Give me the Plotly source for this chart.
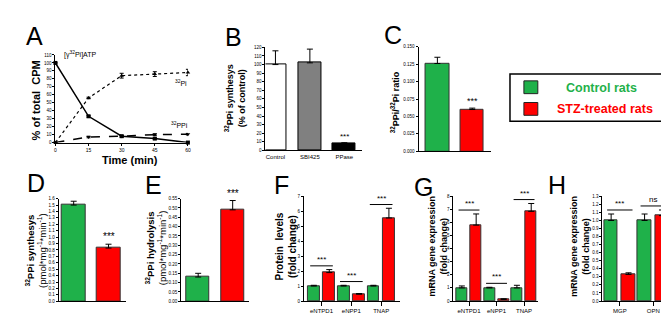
import plotly.graph_objects as go

W, H = 669, 315
FONT = "Liberation Sans, Arial, sans-serif"
GREEN = "#1fb14a"
RED = "#ff0000"

# ---------------- data ----------------
time_min = [0, 15, 30, 45, 60]
atp = [100, 33, 8, 5, 0]
atp_err = [0, 1, 1, 1, 0]
pi = [0, 56, 84, 86, 88]
pi_err = [0, 1, 3, 3, 4]
ppi = [0, 7, 8, 10, 10.5]
ppi_err = [0, 1, 1, 1, 1]

b_cats = ["Control", "SBI425", "PPase"]
b_vals = [100, 102, 8]
b_err = [16, 16, 1]

c_vals = [0.126, 0.060]
c_err = [0.009, 0.002]

d_vals = [1.50, 0.83]
d_err = [0.06, 0.06]

e_vals = [0.13, 0.49]
e_err = [0.02, 0.05]

f_cats = ["eNTPD1", "eNPP1", "TNAP"]
f_ctrl = [1.0, 1.0, 1.0]
f_ctrl_err = [0.05, 0.05, 0.05]
f_stz = [1.9, 0.45, 5.55]
f_stz_err = [0.2, 0.05, 0.65]

g_cats = ["eNTPD1", "eNPP1", "TNAP"]
g_ctrl = [1.0, 1.0, 1.0]
g_ctrl_err = [0.15, 0.05, 0.2]
g_stz = [5.8, 0.12, 6.85]
g_stz_err = [0.85, 0.05, 0.6]

h_cats = ["MGP", "OPN"]
h_ctrl = [1.0, 1.0]
h_ctrl_err = [0.08, 0.08]
h_stz = [0.33, 1.06]
h_stz_err = [0.02, 0.07]
h_sig = ["***", "ns"]

legend_labels = ["Control rats", "STZ-treated rats"]

# ---------------- helpers ----------------
def px_x(x):
    return x / W

def px_y(y):
    return 1 - y / H

fig = go.Figure()
layout = {}

def add_axes(n, xpx, ypx, xrange, yrange, ydtick, yfmt=None, xtickvals=None, xticktext=None, xticks=""):
    xa = "xaxis" if n == 1 else f"xaxis{n}"
    ya = "yaxis" if n == 1 else f"yaxis{n}"
    xr = "x" if n == 1 else f"x{n}"
    yr = "y" if n == 1 else f"y{n}"
    layout[xa] = dict(domain=[px_x(xpx[0]), px_x(xpx[1])], range=xrange, anchor=yr,
                      showline=True, linecolor="black", linewidth=1, showgrid=False, zeroline=False,
                      ticks=xticks, ticklen=4, tickcolor="black",
                      tickvals=xtickvals if xtickvals is not None else [],
                      ticktext=xticktext if xticktext is not None else [],
                      tickfont=dict(size=6, family=FONT, color="black"), fixedrange=True)
    layout[ya] = dict(domain=[px_y(ypx[1]), px_y(ypx[0])], range=yrange, anchor=xr,
                      showline=True, linecolor="black", linewidth=1, showgrid=False, zeroline=False,
                      ticks="outside", ticklen=2, tickcolor="black", dtick=ydtick, tick0=0,
                      tickformat=yfmt, tickfont=dict(size=4.5, family=FONT, color="black"),
                      fixedrange=True)
    return xr, yr

def errbar(err):
    return dict(type="data", array=err, arrayminus=[0] * len(err), symmetric=False,
                color="black", thickness=1, width=3)

annotations = []
shapes = []

def ann(text, x, y, size, color="black", angle=0, xanchor="center", yanchor="middle", xref="paper", yref="paper"):
    annotations.append(dict(text=text, x=x, y=y, xref=xref, yref=yref, showarrow=False,
                            textangle=angle, xanchor=xanchor, yanchor=yanchor,
                            font=dict(size=size, family=FONT, color=color)))

# ---------------- Panel A ----------------
xr, yr = add_axes(1, (46.7, 180), (45.7, 134.7), [0, 60], [0, 110], 10,
                  xtickvals=time_min, xticktext=[str(t) for t in time_min], xticks="outside")
layout["xaxis"]["ticklen"] = 2
layout["xaxis"]["tickfont"]["size"] = 5
for ys, er, dash, sym, lw in [(atp, atp_err, "solid", "square", 1.5),
                              (pi, pi_err, "dot", "triangle-up", 1.2),
                              (ppi, ppi_err, "dash", "triangle-down", 1.5)]:
    fig.add_trace(go.Scatter(x=time_min, y=ys, xaxis=xr, yaxis=yr, mode="lines+markers",
                             line=dict(color="black", width=lw, dash=dash),
                             marker=dict(symbol=sym, size=4, color="black"),
                             error_y=dict(type="data", array=er, color="black", thickness=1, width=2),
                             cliponaxis=False, showlegend=False))
ann("[γ<sup>32</sup>Pi]ATP", px_x(72), px_y(45), 7)
ann("<sup>32</sup>Pi", px_x(173), px_y(74), 7)
ann("<sup>32</sup>PPi", px_x(172), px_y(117), 7)
ann("<b>Time (min)</b>", px_x(122), px_y(152), 11)
ann("<b>% of total  CPM</b>", px_x(27), px_y(92), 11, angle=-90)
ann("A", px_x(26), px_y(26), 25)

# ---------------- Panel B ----------------
xr, yr = add_axes(2, (258, 355), (38, 142.7), [-0.29, 2.51], [0, 120], 10,
                  xtickvals=[0, 1, 2], xticktext=b_cats)
fig.add_trace(go.Bar(x=[0, 1, 2], y=b_vals, xaxis=xr, yaxis=yr, width=0.66,
                     marker=dict(color=["white", "#808080", "black"], line=dict(color="black", width=1)),
                     error_y=errbar(b_err), showlegend=False))
ann("***", 2, b_vals[2] + b_err[2], 8, xref=xr, yref=yr, yanchor="bottom")
ann("<b><sup>32</sup>PPi synthesys<br>(% of control)</b>", px_x(227), px_y(90), 9, angle=-90)
ann("B", px_x(226), px_y(27), 25)

# ---------------- Panel C ----------------
xr, yr = add_axes(3, (412, 485), (37.4, 143.6), [-0.54, 1.54], [0, 0.15], 0.025, yfmt=".3f")
fig.add_trace(go.Bar(x=[0, 1], y=c_vals, xaxis=xr, yaxis=yr, width=0.67,
                     marker=dict(color=[GREEN, RED], line=dict(color="#333333", width=1)),
                     error_y=errbar(c_err), showlegend=False))
ann("***", 1, c_vals[1] + c_err[1], 9, xref=xr, yref=yr, yanchor="bottom")
ann("<b><sup>32</sup>PPi/<sup>32</sup>Pi ratio</b>", px_x(388), px_y(94), 9, angle=-90)
ann("C", px_x(386), px_y(25), 25)

# ---------------- Legend box ----------------
shapes.append(dict(type="rect", xref="paper", yref="paper", x0=px_x(504), x1=px_x(664),
                   y0=px_y(113), y1=px_y(65), line=dict(color="black", width=1.5)))
shapes.append(dict(type="rect", xref="paper", yref="paper", x0=px_x(518), x1=px_x(532),
                   y0=px_y(85), y1=px_y(72), fillcolor=GREEN, line=dict(color="#222222", width=1)))
shapes.append(dict(type="rect", xref="paper", yref="paper", x0=px_x(518), x1=px_x(532),
                   y0=px_y(107), y1=px_y(94), fillcolor=RED, line=dict(color="#222222", width=1)))
ann(f"<b>{legend_labels[0]}</b>", px_x(596), px_y(79), 12.5, color=GREEN)
ann(f"<b>{legend_labels[1]}</b>", px_x(600), px_y(100.5), 12.5, color=RED)

# ---------------- Panel D ----------------
xr, yr = add_axes(4, (50, 118), (191.7, 296), [-0.43, 1.51], [0, 1.6], 0.1, yfmt=".1f")
fig.add_trace(go.Bar(x=[0, 1], y=d_vals, xaxis=xr, yaxis=yr, width=0.67,
                     marker=dict(color=[GREEN, RED], line=dict(color="#333333", width=1)),
                     error_y=errbar(d_err), showlegend=False))
ann("***", 1, d_vals[1] + d_err[1], 10, color="black", xref=xr, yref=yr, yanchor="bottom")
ann("<b><sup>32</sup>PPi synthesys</b><br>(pmol*mg<sup>-1</sup>*min<sup>-1</sup>)", px_x(27), px_y(244), 9.5, angle=-90)
ann("D", px_x(27), px_y(176), 25)

# ---------------- Panel E ----------------
xr, yr = add_axes(5, (173.3, 241.7), (191.7, 296), [-0.49, 1.48], [0, 0.55], 0.05, yfmt=".2f")
fig.add_trace(go.Bar(x=[0, 1], y=e_vals, xaxis=xr, yaxis=yr, width=0.67,
                     marker=dict(color=[GREEN, RED], line=dict(color="#333333", width=1)),
                     error_y=errbar(e_err), showlegend=False))
ann("***", 1, e_vals[1] + e_err[1], 10, color="black", xref=xr, yref=yr, yanchor="bottom")
ann("<b><sup>32</sup>PPi hydrolysis</b><br>(pmol*mg<sup>-1</sup>*min<sup>-1</sup>)", px_x(148), px_y(242), 9.5, angle=-90)
ann("E", px_x(145), px_y(178), 25)

# ---------------- Grouped panels F, G, H ----------------
def grouped(n, xpx, ypx, xrange, yrange, ydtick, cats, ctrl, ctrl_err, stz, stz_err, sigs, pad):
    xr, yr = add_axes(n, xpx, ypx, xrange, yrange, ydtick, yfmt=None if ydtick >= 1 else ".1f",
                      xtickvals=list(range(len(cats))), xticktext=cats, xticks="outside")
    off, wid = 0.26, 0.4
    xs = list(range(len(cats)))
    fig.add_trace(go.Bar(x=[i - off for i in xs], y=ctrl, xaxis=xr, yaxis=yr, width=wid,
                         marker=dict(color=GREEN, line=dict(color="#333333", width=1)),
                         error_y=errbar(ctrl_err), showlegend=False))
    fig.add_trace(go.Bar(x=[i + off for i in xs], y=stz, xaxis=xr, yaxis=yr, width=wid,
                         marker=dict(color=RED, line=dict(color="#333333", width=1)),
                         error_y=errbar(stz_err), showlegend=False))
    for i in xs:
        top = max(ctrl[i] + ctrl_err[i], stz[i] + stz_err[i]) + pad
        shapes.append(dict(type="line", xref=xr, yref=yr, x0=i - off - 0.12, x1=i + off + 0.12,
                           y0=top, y1=top, line=dict(color="black", width=1)))
        ann(sigs[i], i, top, 8, xref=xr, yref=yr, yanchor="bottom")
    return xr, yr

grouped(6, (296.7, 393), (189.3, 295.7), [-0.59, 2.62], [0, 7], 1, f_cats,
        f_ctrl, f_ctrl_err, f_stz, f_stz_err, ["***"] * 3, 0.25)
ann("<b>Protein  levels<br>(fold change)</b>", px_x(279), px_y(240), 10, angle=-90)
ann("F", px_x(274), px_y(178), 25)

grouped(7, (447, 532), (189.3, 295.7), [-0.57, 2.5], [0, 8], 1, g_cats,
        g_ctrl, g_ctrl_err, g_stz, g_stz_err, ["***"] * 3, 0.3)
ann("<b>mRNA gene expression<br>(fold change)</b>", px_x(432), px_y(240), 9, angle=-90)
ann("G", px_x(417), px_y(180), 25)

grouped(8, (597, 664.3), (189.3, 295.7), [-0.52, 1.48], [0, 1.3], 0.1, h_cats,
        h_ctrl, h_ctrl_err, h_stz, h_stz_err, h_sig, 0.05)
ann("<b>mRNA gene expression<br>(fold change)</b>", px_x(575), px_y(240), 9, angle=-90)
ann("H", px_x(551), px_y(178), 25)

fig.update_layout(width=W, height=H, margin=dict(l=0, r=0, t=0, b=0),
                  paper_bgcolor="white", plot_bgcolor="white", showlegend=False,
                  bargap=0, annotations=annotations, shapes=shapes,
                  font=dict(family=FONT, color="black"), **layout)
fig.write_html("out.html")
